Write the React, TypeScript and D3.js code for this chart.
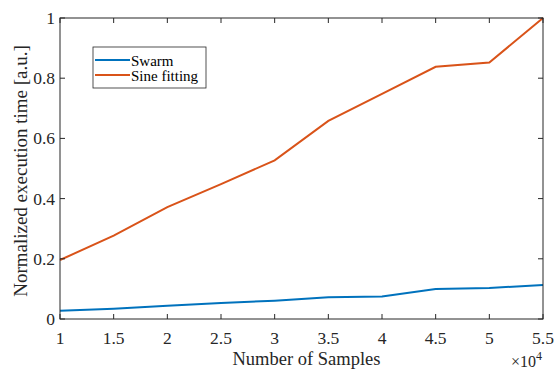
import React from "react";
import * as d3 from "d3";

const samples = [1, 1.5, 2, 2.5, 3, 3.5, 4, 4.5, 5, 5.5];
const swarm = [0.027, 0.034, 0.044, 0.053, 0.061, 0.072, 0.075, 0.1, 0.103, 0.113];
const sineFitting = [0.196, 0.277, 0.372, 0.448, 0.527, 0.658, 0.748, 0.838, 0.852, 1.0];
const xTicks = [1, 1.5, 2, 2.5, 3, 3.5, 4, 4.5, 5, 5.5];
const yTicks = [0, 0.2, 0.4, 0.6, 0.8, 1];
const seriesNames = ["Swarm", "Sine fitting"];
const colors = ["#0072BD", "#D95319"];

export default function App() {
  const W = 554, H = 369;
  const L = 60, R = 543, T = 18, B = 319;
  const x = d3.scaleLinear().domain([1, 5.5]).range([L, R]);
  const y = d3.scaleLinear().domain([0, 1]).range([B, T]);
  const line = d3.line<number>().x((_, i) => x(samples[i])).y((d) => y(d));
  const axisColor = "#262626";
  const font = "Liberation Serif, Times New Roman, serif";
  const tl = 5;
  return (
    <svg width={W} height={H} style={{ position: "absolute", left: 0, top: 0, fontFamily: font }}>
      <rect x={0} y={0} width={W} height={H} fill="white" />
      <path d={line(swarm) || ""} fill="none" stroke={colors[0]} strokeWidth={2} />
      <path d={line(sineFitting) || ""} fill="none" stroke={colors[1]} strokeWidth={2} />
      <rect x={L} y={T} width={R - L} height={B - T} fill="none" stroke={axisColor} strokeWidth={1} />
      {xTicks.map((t) => (
        <g key={"x" + t}>
          <line x1={x(t)} x2={x(t)} y1={B} y2={B - tl} stroke={axisColor} />
          <line x1={x(t)} x2={x(t)} y1={T} y2={T + tl} stroke={axisColor} />
          <text x={x(t)} y={B + 25} textAnchor="middle" fontSize={17.5} fill={axisColor}>{t}</text>
        </g>
      ))}
      {yTicks.map((t) => (
        <g key={"y" + t}>
          <line x1={L} x2={L + tl} y1={y(t)} y2={y(t)} stroke={axisColor} />
          <line x1={R} x2={R - tl} y1={y(t)} y2={y(t)} stroke={axisColor} />
          <text x={L - 5} y={y(t) + 6} textAnchor="end" fontSize={17.5} fill={axisColor}>{t}</text>
        </g>
      ))}
      <text x={(L + R) / 2 + 5} y={365} textAnchor="middle" fontSize={18.5} fill={axisColor}>Number of Samples</text>
      <text x={542} y={367} textAnchor="end" fontSize={16} fill={axisColor}>×10<tspan dy={-7} fontSize={12}>4</tspan></text>
      <text transform={`translate(27, ${171}) rotate(-90)`} textAnchor="middle" fontSize={19} fill={axisColor}>
        Normalized execution time [a.u.]
      </text>
      <rect x={93} y={47} width={113} height={41} fill="white" stroke={axisColor} strokeWidth={0.8} />
      {seriesNames.map((n, i) => (
        <g key={n}>
          <line x1={95} x2={130} y1={60 + i * 15} y2={60 + i * 15} stroke={colors[i]} strokeWidth={2} />
          <text x={131} y={65.5 + i * 15} fontSize={15} fill="#000">{n}</text>
        </g>
      ))}
    </svg>
  );
}
